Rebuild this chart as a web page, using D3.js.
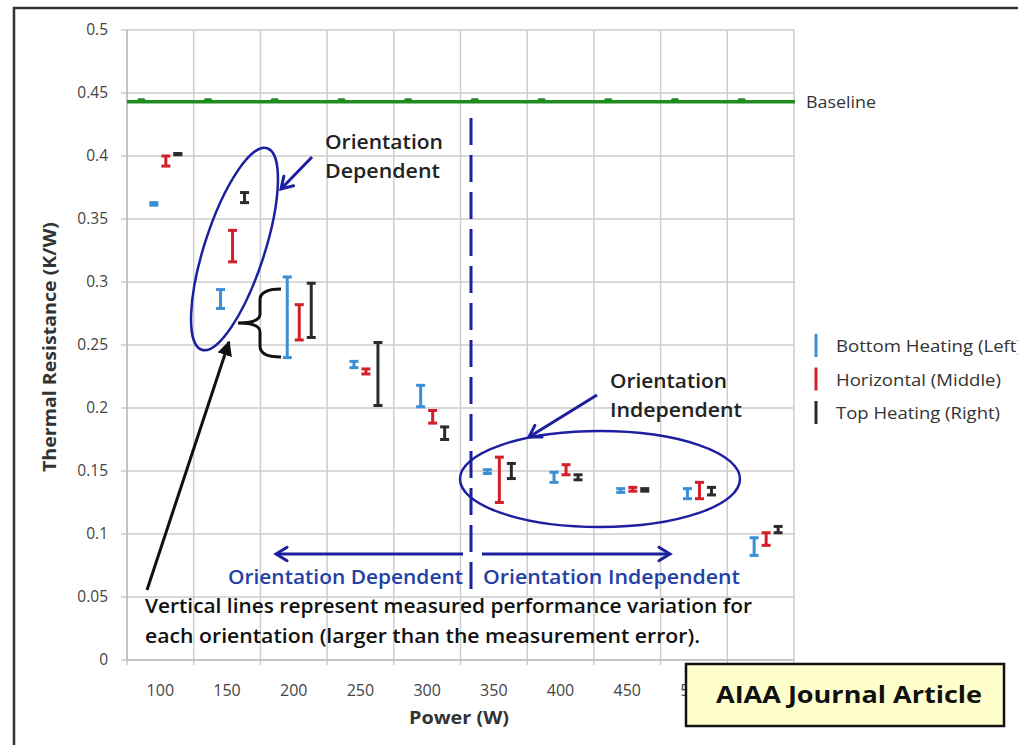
<!DOCTYPE html>
<html lang="en">
<head>
    <meta charset="utf-8">
    <title>Thermal Resistance vs Power</title>
    <script src="https://d3js.org/d3.v7.min.js" charset="utf-8"></script>
    <style>
        body { margin: 0; background: #fff; }
        text { font-family: "Open Sans", Lato, sans-serif; }
    </style>
</head>
<body>

    <script>

    // power levels (W)
    var categories = [100, 150, 200, 250, 300, 350, 400, 450, 500, 550]

    // measured ranges (K/W)
    var bottomLo = [0.361, 0.279, 0.240, 0.232, 0.201, 0.148, 0.141, 0.133, 0.128, 0.083]
    var bottomHi = [0.363, 0.294, 0.304, 0.237, 0.218, 0.151, 0.149, 0.136, 0.136, 0.097]
    var horizLo  = [0.392, 0.316, 0.254, 0.227, 0.188, 0.125, 0.147, 0.134, 0.128, 0.091]
    var horizHi  = [0.400, 0.341, 0.282, 0.231, 0.198, 0.161, 0.155, 0.137, 0.141, 0.101]
    var topLo    = [0.401, 0.363, 0.256, 0.202, 0.175, 0.144, 0.143, 0.134, 0.131, 0.101]
    var topHi    = [0.402, 0.371, 0.299, 0.252, 0.185, 0.156, 0.147, 0.136, 0.137, 0.106]

    var baseline = 0.443
    var yTicks = [0, 0.05, 0.1, 0.15, 0.2, 0.25, 0.3, 0.35, 0.4, 0.45, 0.5]
    var seriesNames = ["Bottom Heating (Left)", "Horizontal (Middle)", "Top Heating (Right)"]

    var w = 1018, h = 745
    var pLeft = 127, pRight = 794, pTop = 30, pBottom = 660
    var colors = ["#3a8fd6", "#d0202a", "#2b2b2b"]
    var offsets = [-6.5, 5.5, 17.5]
    var legendLen = [186, 165, 164]
    var navy = "#1c1f9e"

    var svg = d3.select("body").append("svg").attr("width", w).attr("height", h)

    var defs = svg.append("defs")
    defs.append("marker").attr("id", "blackHead").attr("viewBox", "0 0 10 10")
        .attr("refX", 9).attr("refY", 5).attr("markerWidth", 5).attr("markerHeight", 5)
        .attr("markerUnits", "strokeWidth").attr("orient", "auto")
        .append("path").attr("d", "M0,0 L10,5 L0,10 z").attr("fill", "#111")

    // frame
    svg.append("rect").attr("x", 14).attr("y", 8).attr("width", w).attr("height", h)
        .attr("fill", "none").attr("stroke", "#333").attr("stroke-width", 2.5)

    var x = d3.scaleBand().domain(categories).range([pLeft, pRight]).padding(0)
    var y = d3.scaleLinear().domain([0, 0.5]).range([pBottom, pTop])
    var cx = function (c) { return x(c) + x.bandwidth() / 2 }

    // grid
    svg.append("g").selectAll("line").data(yTicks).enter().append("line")
        .attr("x1", pLeft - 6).attr("x2", pRight)
        .attr("y1", function (d) { return y(d) }).attr("y2", function (d) { return y(d) })
        .attr("stroke", "#cdcdcd").attr("stroke-width", 1.5)

    var edges = categories.map(function (c) { return x(c) }).concat([pRight])
    svg.append("g").selectAll("line").data(edges).enter().append("line")
        .attr("x1", function (d) { return d }).attr("x2", function (d) { return d })
        .attr("y1", pTop).attr("y2", pBottom + 5)
        .attr("stroke", "#cdcdcd").attr("stroke-width", 1.5)

    svg.append("line").attr("x1", pLeft).attr("x2", pRight).attr("y1", pBottom).attr("y2", pBottom)
        .attr("stroke", "#bdbdbd").attr("stroke-width", 1.5)
    svg.append("line").attr("x1", pLeft).attr("x2", pLeft).attr("y1", pTop).attr("y2", pBottom)
        .attr("stroke", "#bdbdbd").attr("stroke-width", 1.5)

    // tick labels
    svg.append("g").selectAll("text").data(yTicks).enter().append("text")
        .attr("x", 108).attr("y", function (d) { return y(d) + 5 })
        .attr("text-anchor", "end").attr("font-size", 15.5).attr("fill", "#444")
        .text(function (d) { return d })

    svg.append("g").selectAll("text").data(categories).enter().append("text")
        .attr("x", function (d) { return cx(d) }).attr("y", 696)
        .attr("text-anchor", "middle").attr("font-size", 16).attr("fill", "#444")
        .text(function (d) { return d })

    svg.append("text").attr("transform", "translate(56,347) rotate(-90)")
        .attr("text-anchor", "middle").attr("font-size", 17).attr("font-weight", "bold").attr("fill", "#333")
        .attr("textLength", 250).attr("lengthAdjust", "spacingAndGlyphs")
        .text("Thermal Resistance (K/W)")
    svg.append("text").attr("x", 459).attr("y", 724)
        .attr("text-anchor", "middle").attr("font-size", 18).attr("font-weight", "bold").attr("fill", "#333")
        .attr("textLength", 100).attr("lengthAdjust", "spacingAndGlyphs")
        .text("Power (W)")

    // baseline
    svg.append("line").attr("x1", pLeft).attr("x2", pRight + 1)
        .attr("y1", y(baseline)).attr("y2", y(baseline))
        .attr("stroke", "#1f8c1f").attr("stroke-width", 3.5)
    svg.append("g").selectAll("rect").data(categories).enter().append("rect")
        .attr("x", function (d) { return cx(d) - 23 }).attr("y", y(baseline) - 3.5)
        .attr("width", 8).attr("height", 3).attr("rx", 1.5).attr("fill", "#1f8c1f")
    svg.append("text").attr("x", 806).attr("y", y(baseline) + 6)
        .attr("font-size", 16.5).attr("fill", "#333")
        .attr("textLength", 70).attr("lengthAdjust", "spacingAndGlyphs").text("Baseline")

    // error bars
    var series = [[bottomLo, bottomHi], [horizLo, horizHi], [topLo, topHi]]
    series.forEach(function (s, k) {
        var g = svg.append("g").attr("stroke", colors[k]).attr("stroke-width", 3)
        categories.forEach(function (c, i) {
            var px = cx(c) + offsets[k]
            g.append("line").attr("x1", px).attr("x2", px).attr("y1", y(s[1][i])).attr("y2", y(s[0][i]))
            g.append("line").attr("x1", px - 4.5).attr("x2", px + 4.5).attr("y1", y(s[1][i])).attr("y2", y(s[1][i]))
            g.append("line").attr("x1", px - 4.5).attr("x2", px + 4.5).attr("y1", y(s[0][i])).attr("y2", y(s[0][i]))
        })
    })

    // legend
    seriesNames.forEach(function (n, k) {
        var ly = 346 + k * 33.5
        svg.append("line").attr("x1", 816).attr("x2", 816).attr("y1", ly - 12).attr("y2", ly + 11)
            .attr("stroke", colors[k]).attr("stroke-width", 3)
        svg.append("text").attr("x", 836).attr("y", ly + 6).attr("font-size", 17).attr("fill", "#333")
            .attr("textLength", legendLen[k]).attr("lengthAdjust", "spacingAndGlyphs").text(n)
    })

    // annotations
    function openArrow(x1, y1, x2, y2, col, sw) {
        var a = Math.atan2(y2 - y1, x2 - x1), L = 13, t = 0.55
        svg.append("line").attr("x1", x1).attr("y1", y1).attr("x2", x2).attr("y2", y2)
            .attr("stroke", col).attr("stroke-width", sw)
        svg.append("path")
            .attr("d", "M" + (x2 - L * Math.cos(a - t)) + "," + (y2 - L * Math.sin(a - t)) +
                " L" + x2 + "," + y2 +
                " L" + (x2 - L * Math.cos(a + t)) + "," + (y2 - L * Math.sin(a + t)))
            .attr("fill", "none").attr("stroke", col).attr("stroke-width", sw).attr("stroke-linecap", "round")
    }

    function label(tx, ty, str, len, col, anchor) {
        return svg.append("text").attr("x", tx).attr("y", ty)
            .attr("text-anchor", anchor || "start")
            .attr("font-size", 19).attr("font-weight", 600).attr("fill", col)
            .attr("textLength", len).attr("lengthAdjust", "spacingAndGlyphs")
            .text(str)
    }

    svg.append("ellipse").attr("transform", "translate(234.5,249) rotate(18)")
        .attr("rx", 30).attr("ry", 106).attr("fill", "none").attr("stroke", navy).attr("stroke-width", 2.5)
    svg.append("ellipse").attr("cx", 600).attr("cy", 479).attr("rx", 140).attr("ry", 48)
        .attr("fill", "none").attr("stroke", navy).attr("stroke-width", 2.5)

    openArrow(312, 157, 281, 189, navy, 3)
    openArrow(597, 395, 529, 437, navy, 3)

    label(325, 149, "Orientation", 118, "#222")
    label(325, 178, "Dependent", 115, "#222")
    label(610, 388, "Orientation", 117, "#222")
    label(610, 417, "Independent", 132, "#222")

    // brace
    svg.append("path")
        .attr("d", "M281,289 Q260,289 260,300 L260,314 Q260,323 238,323 Q260,323 260,332 L260,346 Q260,357 281,357")
        .attr("fill", "none").attr("stroke", "#111").attr("stroke-width", 3)

    // divider between regimes
    svg.append("line").attr("x1", 471).attr("x2", 471).attr("y1", 118).attr("y2", 590)
        .attr("stroke", navy).attr("stroke-width", 3).attr("stroke-dasharray", "27,10")

    openArrow(463, 554, 276, 554, navy, 3)
    openArrow(482, 554, 670, 554, navy, 3)

    label(228, 584, "Orientation Dependent", 235, "#2340a6")
    label(483, 584, "Orientation Independent", 257, "#2340a6")

    svg.append("line").attr("x1", 147).attr("y1", 590).attr("x2", 229).attr("y2", 342)
        .attr("stroke", "#111").attr("stroke-width", 3).attr("marker-end", "url(#blackHead)")

    label(145, 613, "Vertical lines represent measured performance variation for", 607, "#111")
    label(145, 643, "each orientation (larger than the measurement error).", 555, "#111")

    // journal tag
    svg.append("rect").attr("x", 686).attr("y", 664).attr("width", 318).attr("height", 62)
        .attr("fill", "#ffffcc").attr("stroke", "#111").attr("stroke-width", 2.5)
    svg.append("text").attr("x", 716).attr("y", 703)
        .attr("font-size", 24).attr("font-weight", "bold").attr("fill", "#111")
        .attr("textLength", 266).attr("lengthAdjust", "spacingAndGlyphs")
        .text("AIAA Journal Article")

    </script>

</body>
</html>
